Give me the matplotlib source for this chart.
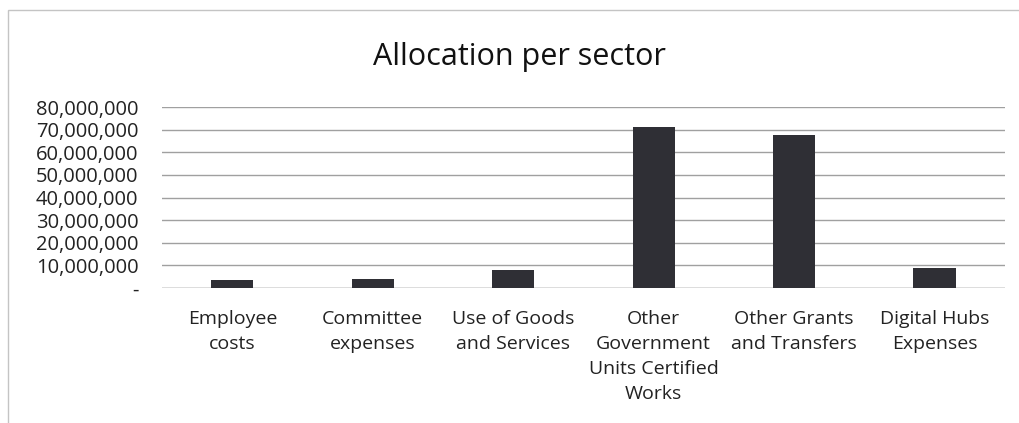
import matplotlib
matplotlib.use("Agg")
import matplotlib.pyplot as plt
from matplotlib.patches import Rectangle
from matplotlib.ticker import FuncFormatter

categories = ["Employee\ncosts", "Committee\nexpenses", "Use of Goods\nand Services",
              "Other\nGovernment\nUnits Certified\nWorks", "Other Grants\nand Transfers",
              "Digital Hubs\nExpenses"]
values = [3400000, 3900000, 8200000, 71300000, 67800000, 8800000]
yticks = [0, 10000000, 20000000, 30000000, 40000000, 50000000, 60000000, 70000000, 80000000]

plt.rcParams['font.family'] = ['Open Sans', 'DejaVu Sans']

fig = plt.figure(figsize=(10.2, 4.23), dpi=100)
# chart border
fig.patches.append(Rectangle((0.008, -0.1), 1.2, 1.076, transform=fig.transFigure,
                             fill=False, edgecolor="#c4c4c4", linewidth=1))

ax = fig.add_axes([0.159, 0.319, 0.826, 0.428])
x = range(len(categories))
ax.bar(x, values, width=0.30, color="#2f2f35", zorder=3)
ax.set_xlim(-0.5, len(categories) - 0.5)
ax.set_ylim(0, 80000000)
ax.set_yticks(yticks)
ax.yaxis.set_major_formatter(FuncFormatter(lambda v, p: "-" if v == 0 else "{:,.0f}".format(v)))
ax.grid(axis="y", color="#a0a0a0", linewidth=1, zorder=0)
ax.set_xticks(list(x))
ax.set_xticklabels(categories, fontsize=14, linespacing=1.5, va="top")
ax.tick_params(axis="both", length=0, colors="#222222")
ax.tick_params(axis="x", pad=16, labelsize=14)
ax.tick_params(axis="y", pad=17, labelsize=14.5)
for s in ax.spines.values():
    s.set_visible(False)
ax.axhline(0, color="#a0a0a0", linewidth=1, zorder=2)

fig.text(0.509, 0.865, "Allocation per sector", ha="center", va="center", fontsize=22, color="#111111")

fig.savefig("out.png", dpi=100)
